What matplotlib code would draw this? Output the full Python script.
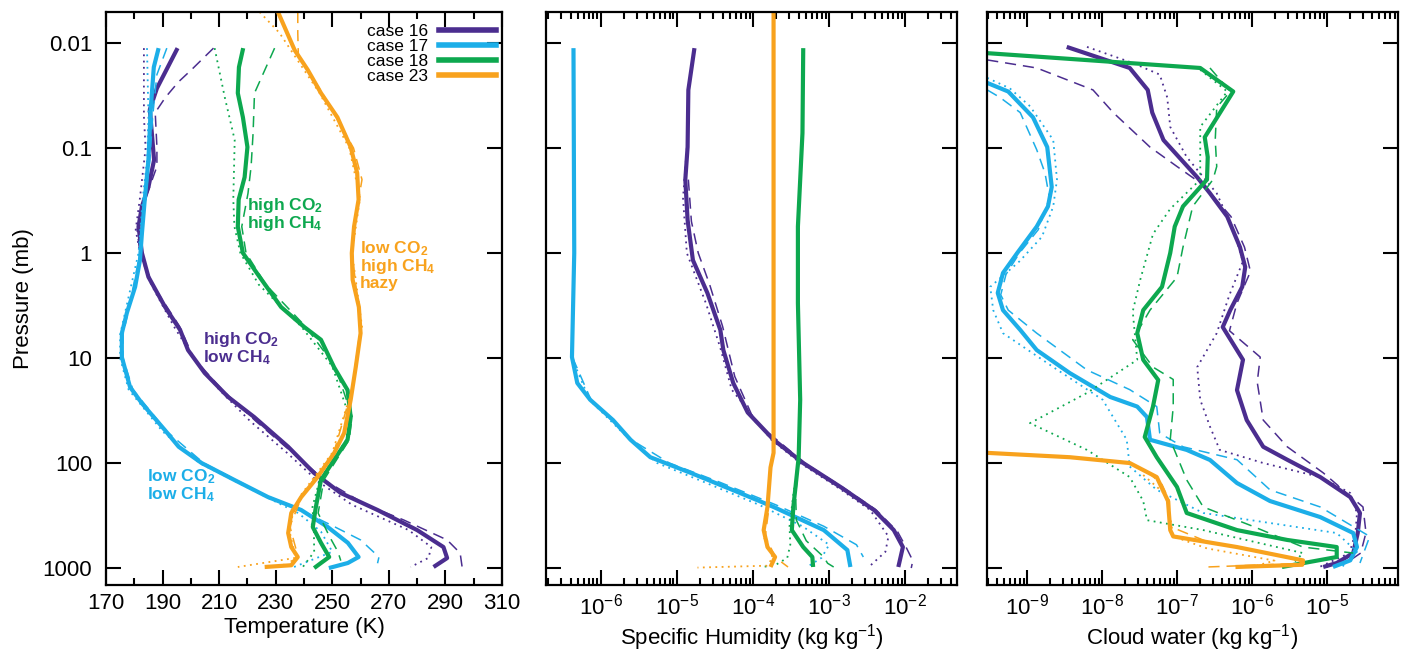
import numpy as np
import matplotlib
matplotlib.use('Agg')
import matplotlib.pyplot as plt
from matplotlib.ticker import FixedLocator, LogLocator, NullFormatter, NullLocator
from matplotlib.lines import Line2D

plt.rcParams['font.family'] = ['Liberation Sans', 'DejaVu Sans']
plt.rcParams['mathtext.fontset'] = 'custom'
plt.rcParams['mathtext.rm'] = 'Liberation Sans'
plt.rcParams['mathtext.bf'] = 'Liberation Sans:bold'
plt.rcParams['mathtext.it'] = 'Liberation Sans:italic'
plt.rcParams['lines.scale_dashes'] = False

# ---------------- temperature (K) profiles ----------------
t16_p = [0.0112, 0.027, 0.043, 0.13, 0.235, 0.36, 0.56, 1.0, 1.69, 3.27, 5.4, 8.4, 13.9, 23.5, 36.5, 70, 124, 193, 280, 435, 631, 803, 977]
t16 = [195.3, 188, 185.5, 187, 185, 182.7, 181.5, 182.7, 185, 190.9, 196.2, 199, 204.9, 213.2, 222.4, 234.4, 243.5, 253, 266, 280, 289.3, 290.6, 285.8]
t16d_p = [0.0112, 0.018, 0.0235, 0.033, 0.046, 0.098, 0.15, 0.3, 0.6, 1.0, 2.0, 5.0, 10, 20, 40, 80, 150, 250, 349, 540, 720, 977]
t16d = [208, 200.2, 195.6, 191, 187.4, 188, 188, 184, 181, 182, 186.5, 196, 201, 211, 223, 236, 248, 262, 275.3, 290.6, 295.2, 295.9]
t16o_p = [0.0112, 0.05, 0.1, 0.3, 0.6, 1.0, 2.0, 5.0, 10, 20, 40, 80, 150, 250, 435, 631, 800, 977]
t16o = [183.4, 183.4, 184, 182, 180.5, 182, 186, 194, 201, 210, 221, 234, 245, 257, 277, 285, 284, 277.7]

t17_p = [0.0112, 0.017, 0.043, 0.13, 0.31, 0.65, 1.17, 2.1, 3.7, 5.8, 9.8, 18.9, 27, 48.5, 70, 100, 145, 211, 280, 407, 575, 785, 895, 1000]
t17 = [188.6, 186.9, 185.8, 185, 183.7, 182.7, 182, 180.3, 177.4, 175.6, 175.6, 178.5, 182.7, 190.8, 195.7, 203.8, 215.4, 227.3, 239, 248.4, 255.5, 259.3, 255.5, 248.8]
t17d_p = [0.0112, 0.02, 0.05, 0.13, 0.3, 1.0, 3.0, 6.0, 10, 20, 50, 100, 200, 300, 407, 540, 785, 900]
t17d = [191.5, 188, 186.5, 185.5, 184, 182, 178.5, 176, 176, 179.5, 191.5, 204.5, 226, 241, 251, 260, 266.5, 266]
t17o_p = [0.0112, 0.05, 0.13, 0.3, 1.0, 3.0, 6.0, 10, 20, 50, 100, 200, 300, 450, 700, 1000]
t17o = [184.5, 185, 184.5, 183, 181.5, 177.5, 175, 175, 178, 190, 203, 225, 238, 246, 250, 235.5]

t18_p = [0.0112, 0.017, 0.030, 0.051, 0.098, 0.19, 0.31, 0.56, 1.0, 1.69, 3.27, 5.07, 6.7, 12.2, 20.2, 36.5, 60, 93.5, 145, 262, 407, 575, 785, 895, 1000]
t18 = [218.5, 217, 216.6, 218.4, 220, 219, 216.9, 216.6, 218.4, 224.3, 231.9, 240.1, 246, 250.6, 255.4, 256.5, 255.4, 250.6, 246, 244.2, 243.1, 246, 248.9, 246, 243.6]
t18d_p = [0.0112, 0.030, 0.072, 0.15, 0.27, 0.56, 1.0, 2.0, 5.0, 12, 36, 60, 145, 300, 500, 700, 850]
t18d = [229.6, 222.5, 222, 221.3, 220.2, 218, 219.5, 226.5, 240.5, 251, 257, 256, 247, 245, 249, 252, 253]
t18o_p = [0.0112, 0.033, 0.084, 0.31, 0.56, 1.0, 2.0, 5.0, 12, 36, 60, 145, 262, 450, 700, 1000]
t18o = [208.4, 212, 215.5, 215, 215.4, 217.5, 224, 239, 250, 256, 255, 245.5, 243, 243.5, 243.6, 239.3]

t23_p = [0.00507, 0.0117, 0.018, 0.030, 0.051, 0.098, 0.173, 0.31, 0.56, 1.0, 1.8, 3.27, 5.8, 12.2, 25, 51.8, 80, 136, 211, 299, 464, 631, 785, 940, 977]
t23 = [230.8, 236.7, 241.3, 246, 251.8, 256.5, 258.8, 259.3, 257.7, 256.9, 257.2, 259.4, 260, 258.3, 256.5, 254.2, 250.7, 244.8, 239, 235.5, 234.4, 235.5, 237.8, 235.5, 226.1]
t23d_p = [0.00507, 0.008, 0.013, 0.03, 0.1, 0.2, 0.5, 1.0, 5.0, 20, 80, 200, 400, 800, 977]
t23d = [237.8, 237.8, 238, 246.5, 257.5, 260.5, 258, 257, 260, 257, 250.5, 239.5, 235, 238, 231]
t23o_p = [0.00507, 0.008, 0.0147, 0.03, 0.1, 0.3, 1.0, 5.0, 20, 80, 200, 400, 800, 977]
t23o = [224.3, 231.3, 237.8, 245.5, 256, 259.8, 257, 260.5, 257, 250, 239, 234.5, 237, 216.6]

# ---------------- specific humidity, log10(kg/kg) ----------------
q16_p = [0.0112, 0.028, 0.098, 0.2, 0.485, 1.17, 2.4, 5.4, 8.4, 17.3, 33, 60, 100, 169, 280, 435, 631, 977]
q16 = [-4.77, -4.85, -4.86, -4.89, -4.86, -4.79, -4.60, -4.43, -4.39, -4.26, -4.07, -3.73, -3.34, -2.85, -2.41, -2.15, -2.03, -2.09]
q16d_p = [0.2, 0.5, 1.0, 2.0, 5.0, 15, 40, 100, 170, 280, 450, 650, 850, 1000]
q16d = [-4.85, -4.81, -4.72, -4.57, -4.40, -4.24, -3.98, -3.32, -2.82, -2.38, -2.10, -1.98, -1.90, -1.92]
q16o_p = [0.1, 0.3, 1.0, 3.0, 8.0, 20, 60, 100, 170, 280, 500, 700, 950]
q16o = [-4.87, -4.92, -4.87, -4.62, -4.43, -4.28, -3.76, -3.38, -2.89, -2.46, -2.22, -2.26, -2.46]

q17_p = [0.0112, 1.0, 9.8, 17.3, 25, 39, 60, 88, 124, 193, 262, 435, 674, 977]
q17 = [-6.36, -6.35, -6.38, -6.31, -6.14, -5.84, -5.61, -5.35, -4.82, -4.17, -3.73, -3.07, -2.76, -2.72]
q17d_p = [10, 25, 60, 100, 150, 250, 400, 600, 785]
q17d = [-6.37, -6.13, -5.60, -5.10, -4.46, -3.70, -3.07, -2.64, -2.55]
q17o_p = [10, 25, 60, 100, 150, 250, 400, 600, 800, 977]
q17o = [-6.38, -6.15, -5.62, -5.26, -4.66, -3.92, -3.35, -3.00, -3.10, -3.29]

q18_p = [0.0112, 0.072, 0.56, 3.0, 25, 88, 193, 262, 435, 631, 785, 977]
q18 = [-3.34, -3.35, -3.41, -3.41, -3.38, -3.40, -3.45, -3.47, -3.49, -3.34, -3.22, -3.21]
q18d_p = [100, 200, 350, 550, 785, 900, 977]
q18d = [-3.40, -3.44, -3.43, -3.30, -3.07, -3.02, -2.94]
q18o_p = [100, 200, 400, 600, 800, 950, 977]
q18o = [-3.41, -3.47, -3.52, -3.51, -3.55, -3.72, -3.90]

q23_p = [0.00507, 80, 110, 262, 435, 631, 785, 977]
q23 = [-3.73, -3.73, -3.77, -3.81, -3.86, -3.81, -3.71, -3.77]
q23d_p = [300, 500, 800, 977]
q23d = [-3.80, -3.84, -3.70, -3.54]
q23o_p = [300, 500, 800, 950, 990]
q23o = [-3.82, -3.86, -3.74, -3.82, -4.73]

# ---------------- cloud water, log10(kg/kg) ----------------
c16_p = [0.0109, 0.0173, 0.028, 0.046, 0.084, 0.19, 0.27, 0.45, 0.88, 1.36, 2.1, 3.5, 5.07, 10.4, 20.2, 39, 70, 93, 136, 211, 299, 464, 720, 895, 977]
c16 = [-8.47, -7.63, -7.39, -7.33, -7.18, -6.73, -6.56, -6.33, -6.16, -6.09, -6.13, -6.29, -6.39, -6.12, -6.20, -6.07, -5.85, -5.53, -5.09, -4.69, -4.56, -4.59, -4.65, -4.87, -5.05]
c16d_p = [0.0145, 0.0173, 0.028, 0.046, 0.098, 0.15, 0.225, 0.45, 0.88, 1.5, 3.0, 5.5, 9.8, 17, 39, 70, 124, 262, 460, 720, 900, 977]
c16d = [-9.53, -8.87, -8.12, -7.85, -7.36, -7.0, -6.65, -6.28, -6.1, -6.02, -6.2, -6.3, -5.89, -5.93, -5.85, -5.53, -5.05, -4.52, -4.48, -4.55, -4.75, -5.0]
c16o_p = [0.0109, 0.0155, 0.02, 0.033, 0.063, 0.122, 0.27, 0.6, 1.2, 2.5, 5.8, 12.2, 25, 45, 75, 100, 136, 193, 300, 460, 720, 977]
c16o = [-8.2, -7.59, -7.23, -7.13, -7.09, -6.87, -6.47, -6.25, -6.12, -6.3, -6.47, -6.73, -6.69, -6.56, -6.43, -5.85, -5.09, -4.69, -4.6, -4.62, -4.7, -5.1]

c17_p = [0.024, 0.029, 0.051, 0.098, 0.235, 0.36, 0.56, 1.0, 1.55, 2.4, 3.5, 5.4, 8.4, 13.9, 23.5, 29, 36.5, 60, 75, 93.5, 155, 230, 327, 464, 631, 845, 977]
c17 = [-9.53, -9.25, -8.92, -8.73, -8.67, -8.72, -8.87, -9.13, -9.32, -9.39, -9.32, -9.09, -8.87, -8.43, -7.89, -7.53, -7.4, -7.36, -6.87, -6.56, -6.2, -5.76, -5.09, -4.65, -4.6, -4.69, -4.92]
c17d_p = [0.028, 0.033, 0.046, 0.104, 0.173, 0.3, 0.6, 1.0, 1.6, 2.5, 3.5, 5.8, 13, 20, 29, 52, 70, 93, 180, 262, 500, 895]
c17d = [-9.53, -9.36, -9.09, -8.87, -8.76, -8.7, -8.85, -9.1, -9.28, -9.35, -9.25, -8.87, -8.2, -7.63, -7.27, -7.23, -6.92, -6.2, -5.76, -5.09, -4.43, -4.56]
c17o_p = [0.0215, 0.027, 0.04, 0.084, 0.2, 0.36, 0.7, 1.2, 2.1, 3.5, 5.8, 12.2, 25, 60, 108, 180, 299, 464, 700, 977]
c17o = [-9.53, -9.23, -8.96, -8.65, -8.6, -8.65, -8.8, -9.1, -9.49, -9.45, -9.32, -8.65, -7.99, -7.67, -7.63, -7.27, -6.65, -4.87, -4.6, -4.8]

c18_p = [0.0125, 0.0173, 0.029, 0.079, 0.122, 0.2, 0.36, 0.56, 1.0, 2.1, 3.5, 5.8, 10.4, 16.2, 29, 56.5, 88, 169, 299, 435, 540, 631, 785, 977]
c18 = [-9.53, -6.69, -6.25, -6.63, -6.59, -6.6, -6.92, -7.03, -7.09, -7.2, -7.45, -7.53, -7.45, -7.25, -7.32, -7.43, -7.27, -7.0, -6.87, -6.2, -5.53, -4.87, -4.87, -5.6]
c18d_p = [0.0173, 0.029, 0.041, 0.084, 0.15, 0.2, 0.36, 0.88, 1.7, 3.5, 6.7, 12.2, 16, 29, 60, 145, 262, 400, 631, 720]
c18d = [-6.56, -6.29, -6.47, -6.49, -6.47, -6.52, -6.79, -6.92, -7.0, -7.36, -7.59, -7.32, -7.05, -7.05, -7.09, -6.87, -6.65, -5.99, -5.32, -4.65]
c18o_p = [0.018, 0.029, 0.063, 0.11, 0.2, 0.38, 0.66, 1.8, 3.6, 10.4, 21.5, 41.7, 75, 136, 230, 350, 435, 720, 977]
c18o = [-6.69, -6.33, -6.69, -6.69, -6.69, -7.09, -7.32, -7.49, -7.59, -7.53, -8.2, -8.96, -8.2, -7.63, -7.45, -7.4, -6.65, -5.32, -5.5]

c23_p = [80, 88, 100, 136, 230, 435, 500, 631, 845, 930, 977]
c23 = [-9.53, -8.43, -7.63, -7.27, -7.12, -7.09, -7.05, -6.2, -5.32, -5.33, -6.22]
c23d_p = [120, 160, 230, 400, 560, 760, 900, 977]
c23d = [-7.4, -7.2, -7.1, -7.1, -6.6, -5.6, -5.3, -6.6]
c23o_p = [130, 200, 300, 500, 650, 850, 977]
c23o = [-7.45, -7.15, -7.1, -7.05, -6.6, -5.7, -6.0]

cases = ['case 16', 'case 17', 'case 18', 'case 23']
colors = ['#4B2D8F', '#1CAEE8', '#0DA84F', '#F8A21D']

plev_ticks = [0.01, 0.1, 1, 10, 100, 1000]
plev_labels = ['0.01', '0.1', '1', '10', '100', '1000']
temp_ticks = [170, 190, 210, 230, 250, 270, 290, 310]
temp_minor = [180, 200, 220, 240, 260, 280, 300]

solid = dict(lw=3.0, solid_capstyle='butt')
dash = dict(lw=1.1, dashes=(8, 5))
dot = dict(lw=1.3, dashes=(1.3, 3.2))

fig = plt.figure(figsize=(14.08, 6.52), dpi=100)
ax1 = fig.add_axes([106/1408, 67/652, 396/1408, 573/652])
ax2 = fig.add_axes([546/1408, 67/652, 411/1408, 573/652])
ax3 = fig.add_axes([987/1408, 67/652, 411/1408, 573/652])

def draw(ax, sets, logx):
    for (pd, vd, po, vo, ps, vs), col in zip(sets, colors):
        for p, v, st in ((pd, vd, dash), (po, vo, dot), (ps, vs, solid)):
            v = np.array(v, dtype=float)
            if logx:
                v = 10.0 ** v
            ax.plot(v, p, color=col, **st)

temp_sets = [(t16d_p, t16d, t16o_p, t16o, t16_p, t16),
             (t17d_p, t17d, t17o_p, t17o, t17_p, t17),
             (t18d_p, t18d, t18o_p, t18o, t18_p, t18),
             (t23d_p, t23d, t23o_p, t23o, t23_p, t23)]
q_sets = [(q16d_p, q16d, q16o_p, q16o, q16_p, q16),
          (q17d_p, q17d, q17o_p, q17o, q17_p, q17),
          (q18d_p, q18d, q18o_p, q18o, q18_p, q18),
          (q23d_p, q23d, q23o_p, q23o, q23_p, q23)]
cw_sets = [(c16d_p, c16d, c16o_p, c16o, c16_p, c16),
           (c17d_p, c17d, c17o_p, c17o, c17_p, c17),
           (c18d_p, c18d, c18o_p, c18o, c18_p, c18),
           (c23d_p, c23d, c23o_p, c23o, c23_p, c23)]

draw(ax1, temp_sets, False)
draw(ax2, q_sets, True)
draw(ax3, cw_sets, True)

for ax in (ax1, ax2, ax3):
    ax.set_yscale('log')
    ax.set_ylim(1450, 0.00507)
    ax.yaxis.set_major_locator(FixedLocator(plev_ticks))
    ax.yaxis.set_minor_locator(NullLocator())
    for s in ax.spines.values():
        s.set_linewidth(1.6)
    ax.tick_params(which='both', direction='in', top=True, right=True, width=1.5, labelsize=16)
    ax.tick_params(which='major', length=11)
    ax.tick_params(which='minor', length=5)
    ax.tick_params(axis='x', pad=6)

ax1.set_yticklabels(plev_labels)
ax1.tick_params(axis='y', pad=10)
ax2.set_yticklabels([])
ax3.set_yticklabels([])

ax1.set_xlim(170, 310)
ax1.xaxis.set_major_locator(FixedLocator(temp_ticks))
ax1.xaxis.set_minor_locator(FixedLocator(temp_minor))

ax2.set_xscale('log')
ax2.set_xlim(1.9e-7, 4.8e-2)
ax3.set_xscale('log')
ax3.set_xlim(2.93e-10, 8.85e-5)
for ax in (ax2, ax3):
    ax.xaxis.set_major_locator(LogLocator(base=10, numticks=20))
    ax.xaxis.set_minor_locator(LogLocator(base=10, subs=np.arange(2, 10), numticks=20))
    ax.xaxis.set_minor_formatter(NullFormatter())

ax1.set_xlabel('Temperature (K)', fontsize=16, labelpad=2)
ax2.set_xlabel('Specific Humidity (kg kg$^{-1}$)', fontsize=16, labelpad=2)
ax3.set_xlabel('Cloud water (kg kg$^{-1}$)', fontsize=16, labelpad=2)
ax1.set_ylabel('Pressure (mb)', fontsize=16, labelpad=6)

# case labels on the temperature panel
lab = dict(fontsize=12.5, fontweight='bold', linespacing=0.95, va='center', ha='left')
ax1.text(220, 0.43, 'high CO$_\\mathbf{2}$\nhigh CH$_\\mathbf{4}$', color=colors[2], **lab)
ax1.text(259.8, 1.3, 'low CO$_\\mathbf{2}$\nhigh CH$_\\mathbf{4}$\nhazy', color=colors[3], **lab)
ax1.text(204.3, 8.2, 'high CO$_\\mathbf{2}$\nlow CH$_\\mathbf{4}$', color=colors[0], **lab)
ax1.text(184.5, 165, 'low CO$_\\mathbf{2}$\nlow CH$_\\mathbf{4}$', color=colors[1], **lab)

handles = [Line2D([], [], color=c, lw=4) for c in colors]
ax1.legend(handles, cases, loc='upper right', bbox_to_anchor=(0.985, 0.98), frameon=False,
           fontsize=12.5, markerfirst=False, handlelength=3.3, handletextpad=0.6,
           labelspacing=0.0, borderpad=0, borderaxespad=0)

fig.savefig('out.png', dpi=100)
